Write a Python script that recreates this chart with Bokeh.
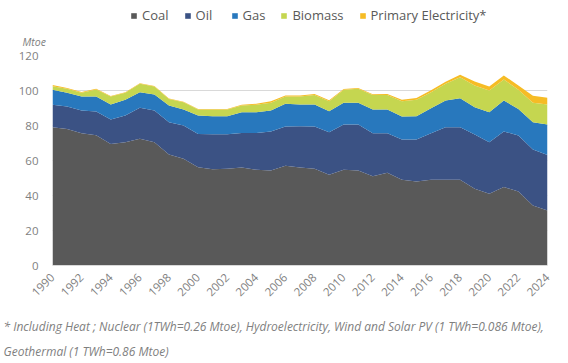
import math
from bokeh.plotting import figure
from bokeh.layouts import column
from bokeh.models import Range1d, Legend, LegendItem, Title, FixedTicker, ColumnDataSource
from bokeh.embed import file_html
from bokeh.resources import INLINE

years = list(range(1990, 2025))
coal = [79, 78, 75.6, 74.5, 69.5, 70.5, 72.4, 70.5, 63.4, 61, 56.2, 55, 55.3, 56, 54.7, 54.3,
        57, 56, 55.3, 51.8, 54.7, 54.3, 51, 53, 49, 48, 49, 49, 49, 43.8, 41, 44.8, 42.3, 34.3, 31.4]
oil = [12.8, 12.9, 13.0, 13.5, 13.9, 15.2, 17.7, 18.1, 18.5, 19.0, 19.0, 20.0, 19.7, 19.7, 21.0,
       22.3, 22.4, 23.6, 24.1, 24.4, 25.9, 26.3, 24.6, 22.6, 23.0, 24.0, 26.6, 30.0, 30.0, 31.0,
       29.5, 31.8, 32.0, 32.0, 31.8]
gas = [8.6, 7.8, 8.0, 8.6, 8.6, 9.0, 8.9, 9.1, 9.5, 9.1, 10.5, 10.3, 10.3, 11.9, 11.9, 12.0, 13.0,
       12.4, 12.6, 12.0, 12.4, 12.4, 13.5, 13.5, 13.1, 13.3, 14.3, 15.3, 16.6, 15.7, 17.1, 17.7,
       15.2, 15.6, 17.4]
biomass = [2.1, 2.3, 2.1, 4.0, 4.6, 4.0, 4.8, 4.6, 3.8, 4.2, 3.4, 3.8, 3.8, 3.8, 4.2, 4.4, 4.2,
           4.6, 5.5, 5.7, 7.4, 8.0, 8.4, 8.4, 8.8, 9.4, 9.1, 9.5, 12.0, 12.4, 12.4, 12.0, 10.9,
           11.1, 11.4]
primary_elec = [0.7, 0.4, 0.4, 0.4, 0.3, 0.3, 0.3, 0.3, 0.3, 0.3, 0.3, 0.3, 0.3, 0.4, 0.6, 0.8,
                0.6, 0.5, 0.5, 0.5, 0.4, 0.4, 0.4, 0.5, 0.8, 1.0, 1.2, 1.2, 1.4, 2.2, 2.3, 2.3,
                2.5, 4.0, 3.8]

series_names = ["Coal", "Oil", "Gas", "Biomass", "Primary Electricity*"]
series_keys = ["coal", "oil", "gas", "biomass", "primary_elec"]
colors = ["#595959", "#3b5284", "#2878bd", "#c5d650", "#f6bc25"]
y_ticks = [0, 20, 40, 60, 80, 100, 120]
x_ticks = list(range(1990, 2025, 2))
unit_label = "Mtoe"
footnote_1 = "* Including Heat ; Nuclear  (1TWh=0.26 Mtoe), Hydroelectricity, Wind  and Solar PV (1  TWh=0.086 Mtoe),"
footnote_2 = "Geothermal (1 TWh=0.86 Mtoe)"

FONT = "Open Sans"
GREY = "#7f7f7f"
W = 568
TOP_H = 24
source = ColumnDataSource(dict(year=years, coal=coal, oil=oil, gas=gas, biomass=biomass,
                               primary_elec=primary_elec))

# ---------- top strip: legend (swatches come from the same stacked areas, kept out of view) ----------
top = figure(width=W, height=TOP_H, output_backend="svg", toolbar_location=None,
             x_range=Range1d(1990, 2024), y_range=Range1d(500, 501),
             x_axis_location=None, y_axis_location=None,
             min_border_left=52, min_border_right=21, min_border_top=0, min_border_bottom=0)
top.outline_line_color = None
top.grid.visible = False
swatches = top.varea_stack(series_keys, x="year", source=source, color=colors)
legend = Legend(items=[LegendItem(label=n, renderers=[r]) for n, r in zip(series_names, swatches)],
                orientation="horizontal", location=(78, 0),
                label_text_font=FONT, label_text_font_size="13px", label_text_color="#595959",
                glyph_width=7, glyph_height=7, label_standoff=5, spacing=15, label_height=14,
                border_line_color=None, background_fill_alpha=0, margin=0, padding=0)
top.add_layout(legend)

# ---------- main chart ----------
p = figure(width=W, height=363 - TOP_H, output_backend="svg", toolbar_location=None,
           x_range=Range1d(1990, 2024), y_range=Range1d(0, 120),
           min_border_left=52, min_border_right=21, min_border_top=31, min_border_bottom=98)
p.outline_line_color = None
p.varea_stack(series_keys, x="year", source=source, color=colors)

p.yaxis.ticker = FixedTicker(ticks=y_ticks)
p.xaxis.ticker = FixedTicker(ticks=x_ticks)
for ax in (p.xaxis[0], p.yaxis[0]):
    ax.major_label_text_font = FONT
    ax.major_label_text_font_size = "11.5px"
    ax.major_label_text_color = GREY
    ax.major_tick_line_color = None
    ax.minor_tick_line_color = None
p.yaxis.axis_line_color = None
p.xaxis.axis_line_color = "#d9d9d9"
p.xaxis.major_label_orientation = math.pi / 4
p.yaxis.major_label_standoff = 8
p.xaxis.major_label_standoff = 4
p.xgrid.grid_line_color = None
p.ygrid.grid_line_color = "#d9d9d9"
p.ygrid.level = "underlay"

p.add_layout(Title(text=unit_label, text_font=FONT, text_font_style="italic",
                   text_font_size="10.5px", text_color=GREY, align="left", offset=-30,
                   standoff=14), "above")

p.add_layout(Title(text=footnote_1, text_font=FONT, text_font_style="italic",
                   text_font_size="12px", text_color=GREY, align="left", offset=-49,
                   standoff=27), "below")
p.add_layout(Title(text=footnote_2, text_font=FONT, text_font_style="italic",
                   text_font_size="12px", text_color=GREY, align="left", offset=-49,
                   standoff=-16), "below")

layout = column(top, p, spacing=0)
open("out.html", "w").write(file_html(layout, INLINE))
